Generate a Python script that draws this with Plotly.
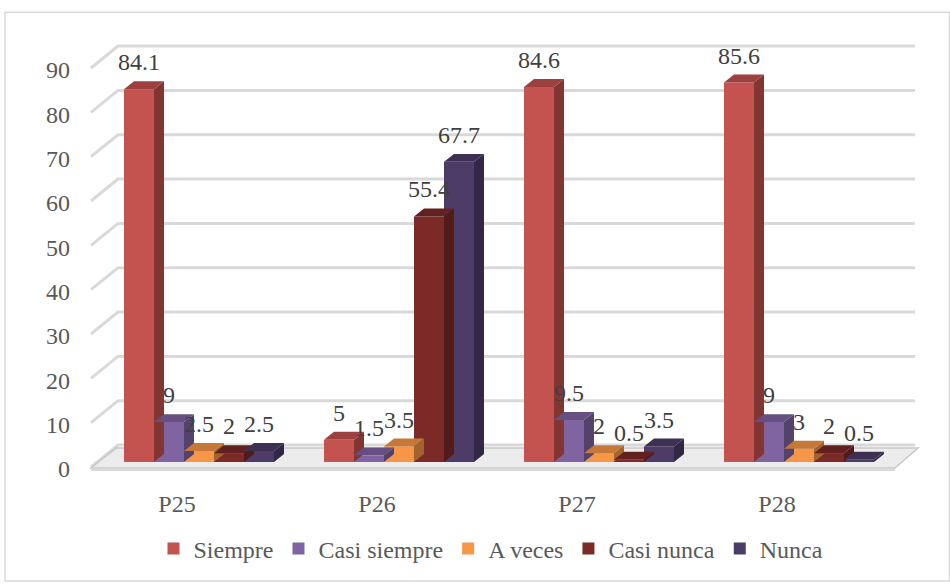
import plotly.graph_objects as go

categories = ["P25", "P26", "P27", "P28"]
series_names = ["Siempre", "Casi siempre", "A veces", "Casi nunca", "Nunca"]
siempre = [84.1, 5, 84.6, 85.6]
casi_siempre = [9, 1.5, 9.5, 9]
a_veces = [2.5, 3.5, 2, 3]
casi_nunca = [2, 55.4, 0.5, 2]
nunca = [2.5, 67.7, 3.5, 0.5]
series_values = [siempre, casi_siempre, a_veces, casi_nunca, nunca]
y_ticks = [0, 10, 20, 30, 40, 50, 60, 70, 80, 90]

colors = ["#c4524f", "#8064a2", "#f79646", "#7b2a27", "#4d3c68"]

def shade(hexc, f):
    h = hexc.lstrip("#")
    r, g, b = int(h[0:2], 16), int(h[2:4], 16), int(h[4:6], 16)
    return "rgb(%d,%d,%d)" % (int(r * f), int(g * f), int(b * f))

W, H = 950, 584
ml, mr, mt, mb = 99, 51, 63, 120
pw, ph = W - ml - mr, H - mt - mb
xr = [-0.5, 3.5]
yr = [0, 90]
ux = (xr[1] - xr[0]) / pw   # data units per px
uy = (yr[1] - yr[0]) / ph

def px(xp):   # pixel x -> paper
    return (xp - ml) / pw

def py(yp):   # pixel y -> paper
    return (H - mb - yp) / ph

def val_to_py(v):   # data value -> pixel y
    return (H - mb) - (v - yr[0]) / uy

bw = 0.15
dx = 10 * ux
dy = 8 * uy
font = "Liberation Serif, DejaVu Serif, serif"
fs = 24

shapes = []
# back-wall gridlines with diagonal connectors (derived from tick values)
for t in y_ticks:
    yv = val_to_py(t)
    shapes.append(dict(type="path", xref="paper", yref="paper",
                       path="M %f %f L %f %f L %f %f" % (
                           px(91), py(yv + 5), px(118), py(yv - 17), px(915), py(yv - 17)),
                       line=dict(color="#d9d9d9", width=3), layer="below"))
# floor
y0p = val_to_py(0)
shapes.append(dict(type="path", xref="paper", yref="paper",
                   path="M %f %f L %f %f L %f %f L %f %f Z" % (
                       px(91), py(y0p + 6), px(895), py(y0p + 6),
                       px(918), py(y0p - 14), px(116), py(y0p - 14)),
                   fillcolor="#ececec", line=dict(color="#c8c8c8", width=1.5), layer="below"))
shapes.append(dict(type="path", xref="paper", yref="paper",
                   path="M %f %f L %f %f" % (px(91), py(y0p + 8), px(895), py(y0p + 8)),
                   line=dict(color="#d9d9d9", width=2), layer="below"))
# outer frame
shapes.append(dict(type="rect", xref="paper", yref="paper",
                   x0=px(5), x1=px(949.5), y0=py(583.5), y1=py(12),
                   line=dict(color="#d9d9d9", width=1.5), layer="below"))

fig = go.Figure()

for j, (name, vals, c) in enumerate(zip(series_names, series_values, colors)):
    xs = [i + (j - 2) * bw for i in range(len(categories))]
    fig.add_trace(go.Bar(
        x=xs, y=vals, width=bw, name=name,
        marker=dict(color=c, line=dict(width=0)),
        showlegend=True, hoverinfo="skip"))
    for x, v in zip(xs, vals):
        x0, x1 = x - bw / 2, x + bw / 2
        fig.add_trace(go.Scatter(
            x=[x1, x1 + dx, x1 + dx, x1, x1],
            y=[0, dy, v + dy, v, 0],
            fill="toself", fillcolor=shade(c, 0.66), line=dict(width=0),
            mode="lines", showlegend=False, hoverinfo="skip"))
        fig.add_trace(go.Scatter(
            x=[x0, x1, x1 + dx, x0 + dx, x0],
            y=[v, v, v + dy, v + dy, v],
            fill="toself", fillcolor=shade(c, 0.8), line=dict(width=0),
            mode="lines", showlegend=False, hoverinfo="skip"))
    fig.add_trace(go.Scatter(
        x=xs, y=[v + dy + 5 * uy for v in vals], mode="text",
        text=[str(v) for v in vals], textposition="top center",
        textfont=dict(family=font, size=fs, color="#404040"),
        showlegend=False, hoverinfo="skip", cliponaxis=False))

fig.update_layout(
    width=W, height=H,
    margin=dict(l=ml, r=mr, t=mt, b=mb),
    paper_bgcolor="white", plot_bgcolor="rgba(0,0,0,0)",
    barmode="overlay",
    font=dict(family=font, size=fs, color="#595959"),
    xaxis=dict(range=xr, tickmode="array", tickvals=list(range(len(categories))),
               ticktext=categories, showgrid=False, zeroline=False, showline=False,
               ticks="", ticklabelshift=-22, ticklabelstandoff=25,
               tickfont=dict(family=font, size=fs, color="#595959")),
    yaxis=dict(range=yr, tickmode="array", tickvals=y_ticks,
               showgrid=False, zeroline=False, showline=False, ticks="",
               ticklabelstandoff=28, ticklabelshift=7,
               tickfont=dict(family=font, size=fs, color="#595959")),
    legend=dict(orientation="h", x=0.49, xanchor="center", y=py(574), yanchor="bottom",
                font=dict(family=font, size=fs, color="#595959"),
                itemwidth=30, traceorder="normal"),
    shapes=shapes,
)

fig.write_html("out.html")
